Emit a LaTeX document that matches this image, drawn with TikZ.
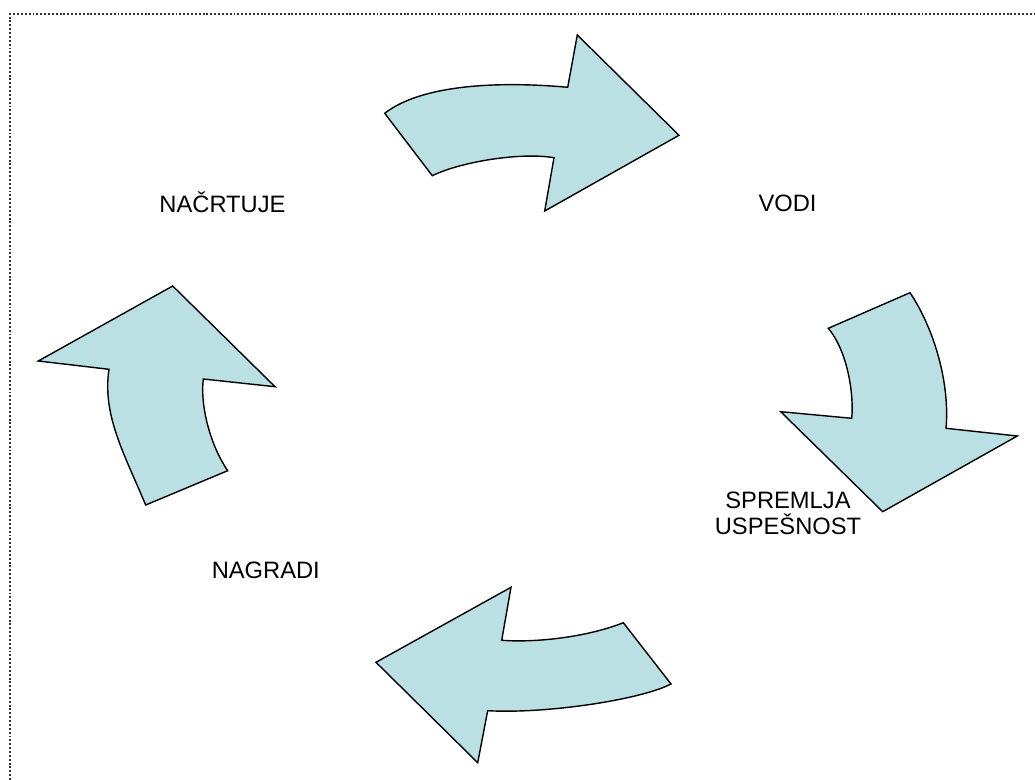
\documentclass[tikz,border=0pt]{standalone}
\usepackage{fontspec}
\setmainfont{Liberation Sans}
\definecolor{arrowfill}{RGB}{187,224,227}

\begin{document}
\begin{tikzpicture}[x=0.02cm, y=-0.02cm,
    cyclearrow/.style={draw=black, line width=0.8pt, fill=arrowfill, line join=miter},
    phase/.style={font=\fontsize{13.5}{15.2}\selectfont, align=center, inner sep=0pt, anchor=base}]
    % Frame
    \useasboundingbox (0,0) rectangle (1035,780);
    \draw[dash pattern=on 1.1pt off 1.1pt, line width=0.85pt, black!80] (10,780) -- (10,14) -- (1035,14);

    % Curved arrows of the cycle
    \draw[cyclearrow] (384.7,113.3) .. controls (425,82) and (510,82) .. (567.7,87.3) -- (577.3,35) -- (679,135.3) -- (544.7,211) -- (554,157.7) .. controls (520,152) and (460,162) .. (432.3,175.7) -- cycle;
    \draw[cyclearrow] (828.3,328.3) -- (910,292.7) .. controls (935,330) and (950,385) .. (946,428.3) -- (1017.3,436) -- (882.7,511.7) -- (780.7,411.7) -- (851.7,418.3) .. controls (854,395) and (848,352) .. (828.3,328.3) -- cycle;
    \draw[cyclearrow] (376,662.3) -- (511,587.3) -- (501.7,640.3) .. controls (540,643) and (590,636) .. (623.3,622.7) -- (671,684) .. controls (640,700) and (545,714) .. (487.7,710.7) -- (477.7,762.7) -- cycle;
    \draw[cyclearrow] (172.7,286) -- (275,386.7) -- (203.3,379) .. controls (200,405) and (210,445) .. (227.7,470.7) -- (145.7,505) .. controls (124.5,454.4) and (102,415) .. (109,369.3) -- (38.3,361) -- cycle;

    % Phases
    \node[phase] (plan) at (222.5,212.3) {NAČRTUJE};
    \node[phase] (lead) at (787.5,211.7) {VODI};
    \node[phase] (monitor) at (788,535) {SPREMLJA\\USPEŠNOST};
    \node[phase] (reward) at (265.8,578.3) {NAGRADI};
\end{tikzpicture}
\end{document}
